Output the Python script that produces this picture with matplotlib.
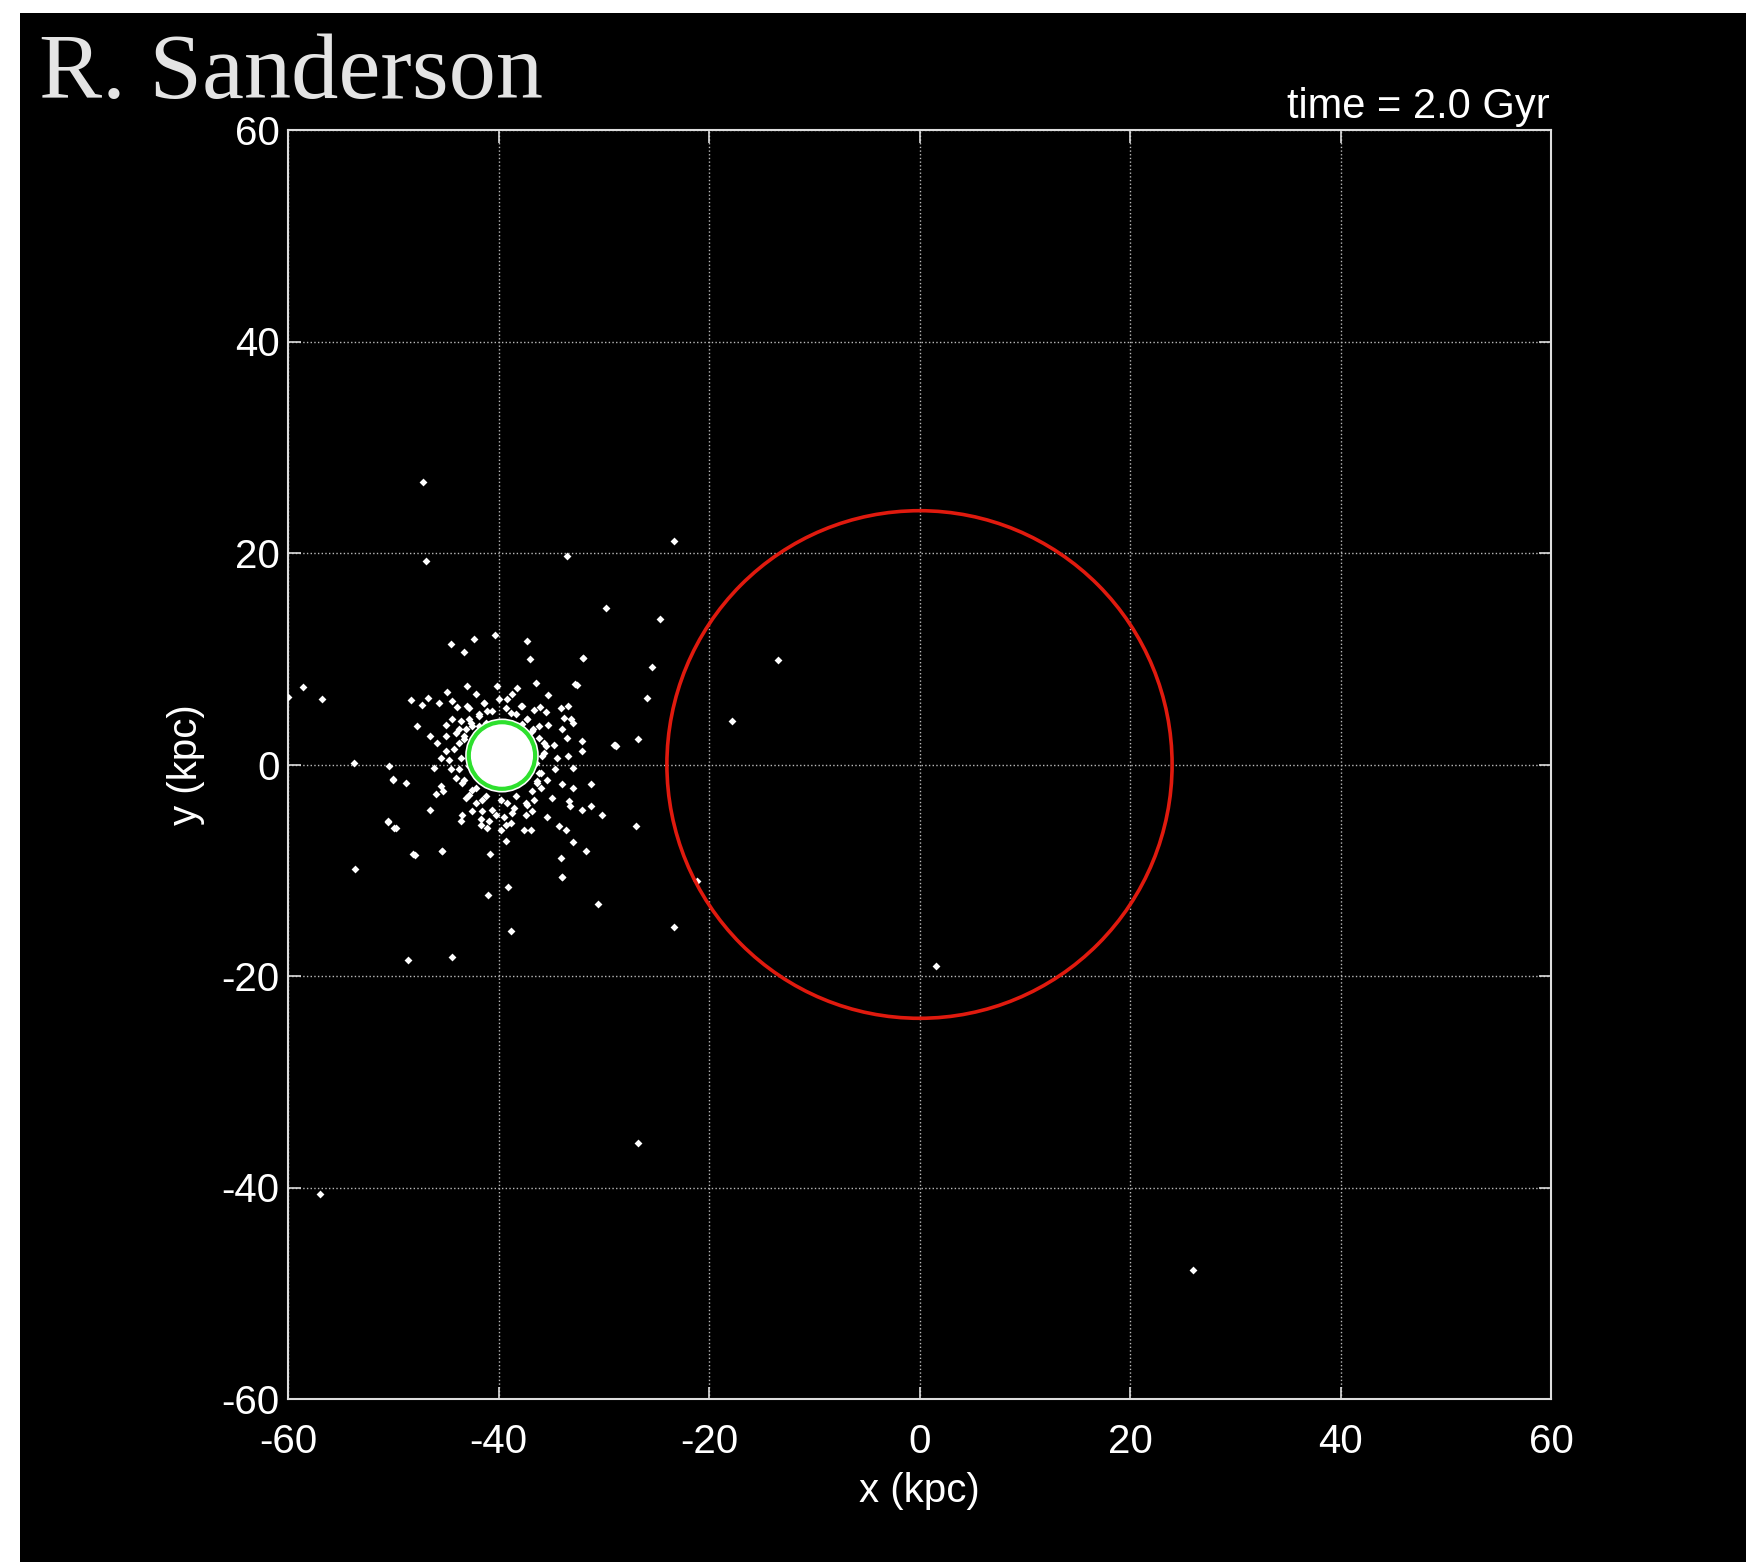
import numpy as np
import matplotlib.pyplot as plt
from matplotlib.patches import Circle, Rectangle

plt.rcParams['axes.unicode_minus'] = False

# --- data (kpc) ---
star_x = [
    -47.2, -46.9, -33.5, -23.3, -29.8, -24.7, -32.0, -25.4, -13.4, -25.9, -32.7, -17.8,
    -26.7, -28.9, -60.0, -58.6, -56.8, -53.7, -53.6, -50.4, -50.0, -50.5, -49.9, -48.1,
    -45.4, -48.6, -44.4, -41.0, -39.1, -38.8, -34.0, -30.5, -26.9, -23.3, -21.1, 1.6,
    -26.7, -57.0, 26.0, -44.5, -42.3, -40.3, -37.3, -43.3, -37.0,
    # cluster, upper left
    -42.96, -44.86, -42.17, -48.31, -46.70, -47.24, -45.65, -44.39, -43.91, -42.80,
    -41.38, -42.80, -41.85, -41.07, -44.39, -44.96, -47.71, -43.75, -46.51, -45.02,
    -45.81, -43.28, -42.49, -41.20, -41.85, -43.75,
    # cluster, upper right
    -31.94, -36.47, -32.58, -38.21, -35.27, -40.11, -39.16, -37.89, -36.09, -35.46,
    -34.03, -33.42, -33.78, -33.14, -32.92, -33.94, -35.27, -37.26, -38.84, -36.69,
    -33.52, -32.04, -29.03, -35.68, -34.73,
    # cluster, lower left
    -50.02, -48.82, -46.13, -45.49, -45.27, -45.97, -46.51, -50.47, -49.77, -47.93,
    -45.40, -40.84, -44.70, -44.54, -44.07, -43.44, -43.12, -42.80, -42.49, -43.50,
    -43.60, -41.54, -40.90, -41.69, -41.07, -40.27, -42.17, -41.54, -45.49, -45.02,
    # cluster, lower right
    -32.04, -28.87, -33.40, -32.95, -31.24, -32.95, -33.94, -34.63, -35.36, -35.99,
    -34.89, -33.30, -33.21, -32.04, -31.24, -30.13, -35.36, -34.25, -33.56, -32.92,
    -31.71, -34.09, -33.94, -36.94, -37.58, -36.79, -37.42, -37.26, -39.48, -38.84,
    -39.79, -39.31, -38.53, -39.16, -36.63, -36.31, -36.15, -35.68, -34.41,
    # halo round the core
    -42.96, -41.38, -39.95, -38.69, -37.74, -36.63, -39.31, -41.85, -40.59, -38.37,
    -43.60, -42.64, -37.26, -36.15, -44.07, -43.28, -36.15, -35.52, -44.23, -43.60,
    -35.84, -43.75, -35.99, -43.28, -36.31, -42.49, -36.79, -41.22, -38.37, -39.79,
    -42.17, -37.42, -40.59, -38.69, -41.69, -39.31, -42.80, -36.47, -43.12, -36.79,
    -41.85, -37.74,
]
star_y = [
    26.7, 19.2, 19.7, 21.1, 14.8, 13.8, 10.1, 9.2, 9.9, 6.3, 7.6, 4.1,
    2.4, 1.8, 6.4, 7.3, 6.2, 0.1, -9.9, -0.1, -1.4, -5.4, -6.0, -8.5,
    -8.2, -18.5, -18.2, -12.3, -11.6, -15.7, -10.6, -13.2, -5.8, -15.4, -11.0, -19.1,
    -35.8, -40.6, -47.8, 11.4, 11.9, 12.2, 11.7, 10.6, 10.0,
    # cluster, upper left
    7.41, 6.84, 6.65, 6.09, 6.31, 5.58, 5.84, 5.99, 5.46, 5.36,
    5.84, 4.26, 4.57, 5.04, 4.26, 3.69, 3.63, 3.31, 2.68, 2.68,
    2.05, 2.68, 3.63, 3.97, 3.00, 2.05,
    # cluster, upper right
    10.09, 7.66, 7.51, 7.25, 6.53, 7.41, 6.15, 5.52, 5.42, 4.99,
    5.30, 5.55, 4.42, 4.26, 3.88, 3.31, 3.69, 4.26, 4.89, 3.31,
    2.49, 2.21, 1.80, 2.05, 1.89,
    # cluster, lower left
    -1.48, -1.73, -0.32, -2.05, -2.52, -2.78, -4.26, -5.36, -5.99, -8.52,
    -8.20, -8.42, 0.47, -0.47, -1.26, -1.73, -3.15, -2.84, -4.42, -4.73,
    -5.36, -4.42, -5.36, -5.68, -5.99, -4.73, -2.21, -3.31, 0.63, 1.26,
    # cluster, lower right
    1.32, 1.74, 0.79, -0.32, -1.89, -2.21, -1.89, -0.47, -1.42, -2.21,
    -3.15, -3.47, -3.94, -4.26, -3.94, -4.80, -4.99, -5.84, -6.15, -7.32,
    -8.14, -8.83, -10.63, -6.15, -6.15, -4.42, -4.73, -3.79, -4.99, -5.52,
    -6.15, -7.26, -4.10, -3.62, -3.31, -1.58, -0.79, 1.10, 0.63,
    # halo round the core
    5.52, 5.84, 6.15, 6.62, 5.52, 5.20, 5.36, 4.73, 5.04, 4.73,
    4.10, 3.94, 4.26, 3.63, 3.00, 2.37, 2.53, 1.74, 1.42, 0.63,
    0.79, -0.47, -0.79, -1.42, -1.73, -2.37, -2.52, -3.00, -3.00, -3.31,
    -3.62, -3.62, -4.26, -4.57, -5.20, -5.68, -0.16, 0.16, 3.31, 3.15,
    3.63, 3.79,
]

core_center = (-39.67, 0.85)
core_radius = 3.5         # saturated white centre of the satellite
satellite_radius = 3.15   # green circle
host_center = (0.0, 0.0)
host_radius = 24.0        # red circle

ticks = [-60, -40, -20, 0, 20, 40, 60]
time_label = "time = 2.0 Gyr"
author = "R. Sanderson"

# --- figure ---
W, H, dpi = 1746, 1562, 100
fig = plt.figure(figsize=(W / dpi, H / dpi), dpi=dpi, facecolor='white')
# black panel, leaving a thin white strip on the left and top
fig.patches.append(Rectangle((20 / W, 0), 1, 1 - 13 / H, transform=fig.transFigure,
                             facecolor='black', edgecolor='none', zorder=-5))

ax = fig.add_axes([288 / W, 163 / H, 1263 / W, 1269 / H])
ax.set_facecolor('black')

ax.scatter(star_x, star_y, s=16, marker='D', color='white', linewidths=0, zorder=3)
ax.add_patch(Circle(core_center, core_radius, facecolor='white', edgecolor='none', zorder=4))
ax.add_patch(Circle(core_center, satellite_radius, fill=False, edgecolor='#2ee02e',
                    linewidth=3, zorder=5))
ax.add_patch(Circle(host_center, host_radius, fill=False, edgecolor='#e01a0e',
                    linewidth=2.6, zorder=5))

ax.set_xlim(-60, 60)
ax.set_ylim(-60, 60)
ax.set_xticks(ticks)
ax.set_yticks(ticks)
ax.grid(True, color='#bbbbbb', linestyle=':', linewidth=1.0, zorder=1)
ax.set_axisbelow(True)
for s in ax.spines.values():
    s.set_color('#dddddd')
    s.set_linewidth(1.5)
ax.tick_params(direction='in', length=9, width=1.2, color='#dddddd',
               top=True, right=True, labelsize=29, labelcolor='white')
ax.tick_params(axis='x', pad=17)
ax.tick_params(axis='y', pad=6)
for lab in ax.get_xticklabels() + ax.get_yticklabels():
    lab.set_family('Liberation Sans')

ax.set_xlabel('x (kpc)', color='white', fontsize=29, family='Liberation Sans', labelpad=8)
ax.set_ylabel('y (kpc)', color='white', fontsize=29, family='Liberation Sans', labelpad=12)

fig.text(1550 / W, 1 - 118 / H, time_label, ha='right', va='baseline', color='white',
         fontsize=30, family='Liberation Sans')
fig.text(39 / W, 1 - 98 / H, author, ha='left', va='baseline', color='#e4e4e4',
         fontsize=68, family='Liberation Serif')

fig.savefig('out.png', dpi=dpi, facecolor=fig.get_facecolor())
